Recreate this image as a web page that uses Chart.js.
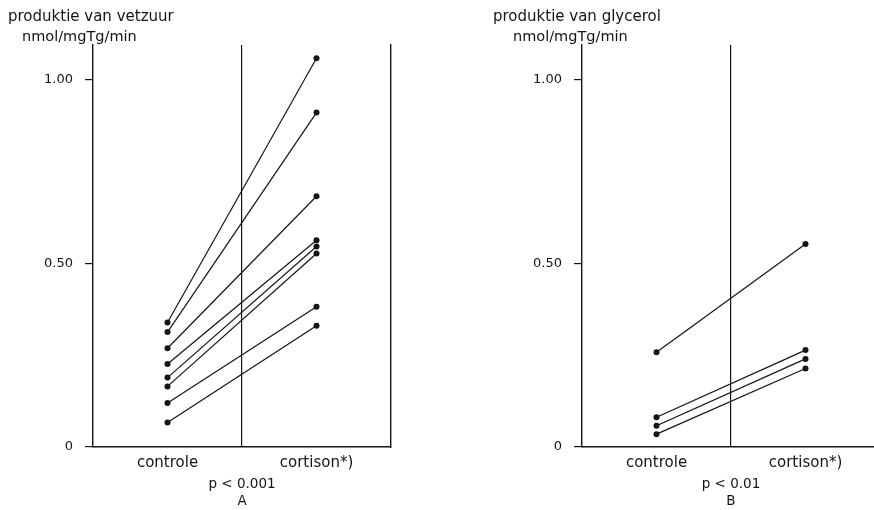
<!DOCTYPE html>
<html><head><meta charset="utf-8">
<script src="https://cdn.jsdelivr.net/npm/chart.js@4.4.0/dist/chart.umd.min.js"></script>
<style>
html,body{margin:0;padding:0;background:#fff;overflow:hidden;width:874px;height:510px;position:relative;}
canvas{position:absolute;top:0;}
</style></head><body>
<canvas id="chartA" width="440" height="510" style="left:0px"></canvas>
<canvas id="chartB" width="440" height="510" style="left:489px"></canvas>
<script>
// ---- data ----
const groups = ['controle', 'cortison*)'];
const yTickValues = [0, 0.5, 1.0];
const yTickLabels = ['0', '0.50', '1.00'];
const controleA = [0.339, 0.313, 0.269, 0.226, 0.189, 0.165, 0.120, 0.067];
const cortisonA = [1.059, 0.911, 0.683, 0.563, 0.546, 0.527, 0.382, 0.330];
const controleB = [0.258, 0.081, 0.058, 0.035];
const cortisonB = [0.553, 0.264, 0.240, 0.214];
const headerA = ['produktie van vetzuur', 'nmol/mgTg/min'];
const headerB = ['produktie van glycerol', 'nmol/mgTg/min'];
const footerA = ['p < 0.001', 'A'];
const footerB = ['p < 0.01', 'B'];

const INK = '#141414';
const FONT = 'DejaVu Sans';

const headerPlugin = {
  id: 'header',
  afterDraw(chart, args, opts) {
    const ctx = chart.ctx;
    ctx.save();
    ctx.fillStyle = INK;
    ctx.textAlign = 'left';
    ctx.textBaseline = 'middle';
    opts.lines.forEach((t, i) => {
      ctx.font = opts.sizes[i] + 'px "' + FONT + '"';
      ctx.fillText(t, opts.xs[i], opts.ys[i]);
    });
    ctx.restore();
  }
};

function makeChart(id, controle, cortison, header, headerXs, footer) {
  const datasets = controle.map((c, i) => ({
    data: [{x: 1, y: c}, {x: 3, y: cortison[i]}],
    showLine: true,
    borderColor: INK,
    backgroundColor: INK,
    borderWidth: 1.2,
    pointRadius: 3,
    pointBorderWidth: 0,
    pointBackgroundColor: INK
  }));
  return new Chart(document.getElementById(id), {
    type: 'scatter',
    data: { datasets },
    plugins: [headerPlugin],
    options: {
      responsive: false,
      animation: false,
      events: [],
      layout: { padding: { top: 45, left: 0, right: 0, bottom: 0 } },
      plugins: {
        legend: { display: false },
        tooltip: { enabled: false },
        header: { lines: header, xs: headerXs, ys: [17, 37], sizes: [15, 14.5] }
      },
      scales: {
        x: {
          type: 'linear', min: 0, max: 4,
          afterBuildTicks: s => { s.ticks = [1, 2, 3].map(v => ({value: v})); },
          afterFit: s => { s.height = 63; },
          ticks: {
            color: INK, padding: 7, maxRotation: 0, autoSkip: false,
            font: { family: FONT, size: 15 },
            callback: v => v === 1 ? groups[0] : (v === 3 ? groups[1] : '')
          },
          grid: {
            drawTicks: false,
            lineWidth: 1.2,
            color: c => (c.tick && c.tick.value === 2) ? INK : 'rgba(0,0,0,0)'
          },
          border: { display: true, color: INK, width: 1.4 },
          title: {
            display: true, text: footer, color: INK,
            font: { family: FONT, size: 13.5, lineHeight: 1.25 },
            padding: { top: 0, bottom: 0 }
          }
        },
        y: {
          type: 'linear', min: 0, max: 1.095, position: 'left',
          afterBuildTicks: s => { s.ticks = yTickValues.map(v => ({value: v})); },
          afterFit: s => { s.width = 93; },
          ticks: {
            color: INK, padding: 12,
            font: { family: FONT, size: 13 },
            callback: (v, i) => yTickLabels[i]
          },
          grid: { drawOnChartArea: false, drawTicks: true, tickLength: 8, color: INK, lineWidth: 1.2 },
          border: { display: true, color: INK, width: 1.4 }
        },
        yr: {
          type: 'linear', min: 0, max: 1.095, position: 'right',
          afterFit: s => { s.width = 440 - 391; },
          ticks: { display: false },
          grid: { display: false },
          border: { display: true, color: INK, width: 1.4 }
        }
      }
    }
  });
}

makeChart('chartA', controleA, cortisonA, headerA, [8, 22], footerA);
makeChart('chartB', controleB, cortisonB, headerB, [4, 24], footerB);
</script>
</body></html>
